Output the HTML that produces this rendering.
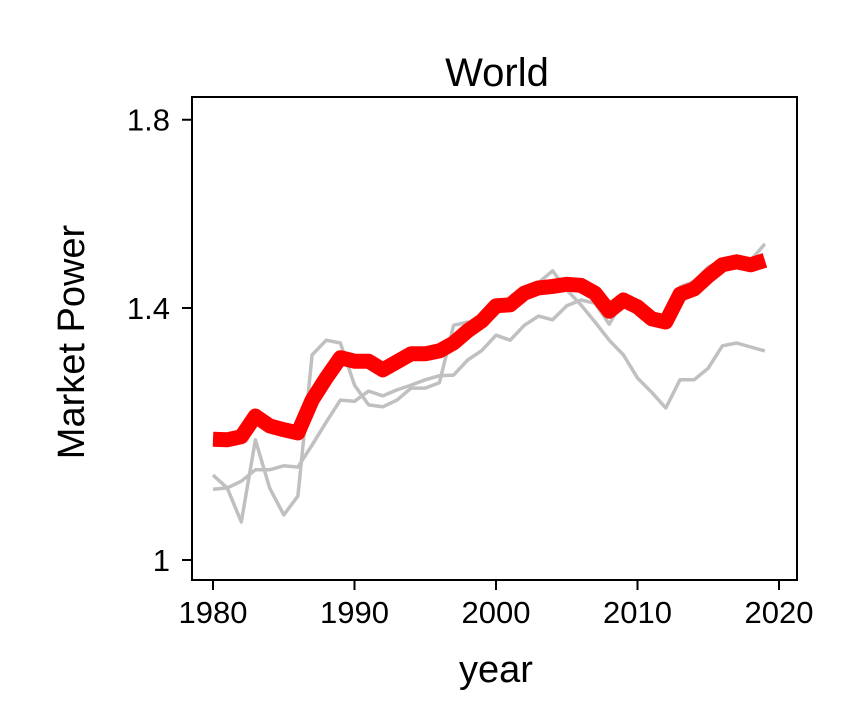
<!DOCTYPE html>
<html><head><meta charset="utf-8"><style>body{margin:0;background:#fff}svg{display:block;font-family:"Liberation Sans",sans-serif}</style></head>
<body>
<svg id="chart" width="856" height="711" viewBox="0 0 856 711">
<rect width="856" height="711" fill="#fff"/>
<text x="497" y="86" font-size="40" text-anchor="middle">World</text>
<rect x="192" y="97" width="605" height="483" fill="none" stroke="#000" stroke-width="2"/>
<text transform="translate(84,342) rotate(-90)" font-size="38" text-anchor="middle">Market Power</text>
<text x="496" y="682" font-size="38" text-anchor="middle">year</text>
<g id="axes"></g><g id="series"></g>
</svg>
<script>
const years=[];for(let y=1980;y<=2019;y++)years.push(y);
const xTicks=[1980,1990,2000,2010,2020];
const yTicks=[1,1.4,1.8];
const yTickLabels=["1","1.4","1.8"];
const grayA=[1.120,1.101,1.052,1.174,1.101,1.062,1.089,1.315,1.341,1.336,1.263,1.230,1.227,1.238,1.258,1.258,1.267,1.368,1.374,1.365,1.387,1.415,1.438,1.448,1.471,1.434,1.406,1.374,1.341,1.315,1.275,1.251,1.225,1.272,1.272,1.292,1.331,1.336,1.329,1.322];
const grayB=[1.099,1.101,1.111,1.128,1.128,1.134,1.132,1.166,1.202,1.238,1.236,1.253,1.245,1.255,1.263,1.272,1.279,1.280,1.306,1.323,1.350,1.341,1.368,1.385,1.378,1.404,1.415,1.409,1.370,1.415,1.393,1.382,1.374,1.440,1.450,1.479,1.492,1.489,1.492,1.525];
const world=[1.175,1.174,1.179,1.212,1.196,1.190,1.185,1.238,1.275,1.310,1.304,1.304,1.289,1.303,1.317,1.317,1.322,1.336,1.358,1.376,1.404,1.406,1.428,1.438,1.441,1.445,1.443,1.428,1.394,1.415,1.402,1.380,1.374,1.426,1.436,1.461,1.483,1.489,1.483,1.492];
const NS="http://www.w3.org/2000/svg";
function xs(v){return 213+(v-1980)*14.15;}
function ys(v){return 560-Math.log(v)*749;}
const axes=document.getElementById('axes'),ser=document.getElementById('series');
function mk(tag,attrs,parent){const e=document.createElementNS(NS,tag);for(const k in attrs)e.setAttribute(k,attrs[k]);parent.appendChild(e);return e;}
xTicks.forEach(t=>{
 const l=mk('line',{x1:xs(t),x2:xs(t),y1:580,y2:590,stroke:'#000','stroke-width':2},axes);
 
 
 const tx=mk('text',{x:xs(t),y:623,'font-size':31,'text-anchor':'middle'},axes);tx.textContent=t;
 
 
});
yTicks.forEach((t,i)=>{
 const l=mk('line',{x1:182,x2:192,y1:ys(t),y2:ys(t),stroke:'#000','stroke-width':2},axes);
 
 
 const tx=mk('text',{x:170,y:ys(t)+11,'font-size':31,'text-anchor':'end'},axes);tx.textContent=yTickLabels[i];
 
 
});
function pts(arr){return arr.map((v,i)=>xs(years[i]).toFixed(1)+','+ys(v).toFixed(1)).join(' ');}
const a=mk('polyline',{points:pts(grayA),fill:'none',stroke:'#c0c0c0','stroke-width':3.5,'stroke-linejoin':'round'},ser);


const b=mk('polyline',{points:pts(grayB),fill:'none',stroke:'#c0c0c0','stroke-width':3.5,'stroke-linejoin':'round'},ser);


const w=mk('polyline',{points:pts(world),fill:'none',stroke:'#ff0000','stroke-width':15,'stroke-linejoin':'round'},ser);


</script>
</body></html>
